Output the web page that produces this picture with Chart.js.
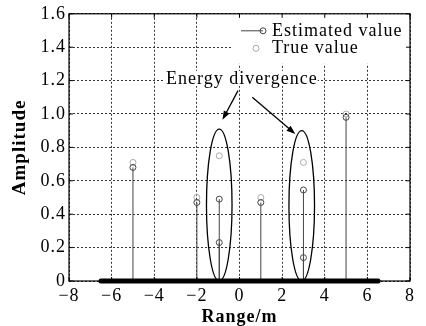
<!DOCTYPE html>
<html>
<head>
<meta charset="utf-8">
<script src="https://cdn.jsdelivr.net/npm/chart.js@4/dist/chart.umd.min.js"></script>
<style>
html, body { margin: 0; padding: 0; background: #fff; }
#wrap { width: 426px; height: 326px; }
</style>
</head>
<body>
<div id="wrap"><canvas id="stem_chart"></canvas></div>
<script>
// estimated targets (stems)
var estRange = [-5, -2, -0.95, -0.95, 1, 3, 3, 5];
var estAmp   = [0.68, 0.47, 0.49, 0.23, 0.47, 0.545, 0.14, 0.98];
// true targets
var trueRange = [-5, -2, -0.95, 1, 3, 5];
var trueAmp   = [0.71, 0.50, 0.75, 0.50, 0.71, 1.0];
// zero estimates packed along the scene
var zeroRange = [-6.5, 6.5];

var xTicks = [-8, -6, -4, -2, 0, 2, 4, 6, 8];
var yTicks = [0, 0.2, 0.4, 0.6, 0.8, 1.0, 1.2, 1.4, 1.6];

// "Energy divergence" groups
var groupX = [-0.95, 2.92];
var groupTop = [0.91, 0.90];
var groupHalfWidth = 0.6;

var SERIF = '"Liberation Serif", "Times New Roman", serif';

function stemPoints() {
    var pts = [];
    for (var i = 0; i < estRange.length; i++) {
        pts.push({x: estRange[i], y: 0}, {x: estRange[i], y: estAmp[i]}, {x: estRange[i], y: null});
    }
    return pts;
}

function pairs(xs, ys) {
    return xs.map(function (x, i) { return {x: x, y: ys[i]}; });
}

function arrow(ctx, x0, y0, x1, y1) {
    var ang = Math.atan2(y1 - y0, x1 - x0), len = 9, w = 3.2;
    ctx.beginPath();
    ctx.moveTo(x0, y0);
    ctx.lineTo(x1 - Math.cos(ang) * len * 0.8, y1 - Math.sin(ang) * len * 0.8);
    ctx.stroke();
    ctx.beginPath();
    ctx.moveTo(x1, y1);
    ctx.lineTo(x1 - Math.cos(ang) * len - Math.sin(ang) * w, y1 - Math.sin(ang) * len + Math.cos(ang) * w);
    ctx.lineTo(x1 - Math.cos(ang) * len + Math.sin(ang) * w, y1 - Math.sin(ang) * len - Math.cos(ang) * w);
    ctx.closePath();
    ctx.fill();
}

var spacing = {
    id: 'spacing',
    beforeDraw: function (chart) { chart.ctx.letterSpacing = '1px'; }
};

var notes = {
    id: 'notes',
    afterDatasetsDraw: function (chart) {
        var ctx = chart.ctx, xs = chart.scales.x, ys = chart.scales.y, a = chart.chartArea;
        ctx.save();
        ctx.strokeStyle = '#000';
        ctx.fillStyle = '#000';

        // ellipses round the split peaks
        ctx.lineWidth = 1.3;
        for (var i = 0; i < groupX.length; i++) {
            var cx = xs.getPixelForValue(groupX[i]);
            var top = ys.getPixelForValue(groupTop[i]), bot = ys.getPixelForValue(0);
            var rx = xs.getPixelForValue(groupX[i] + groupHalfWidth) - cx;
            ctx.beginPath();
            ctx.ellipse(cx, (top + bot) / 2, rx, (bot - top) / 2, 0, 0, Math.PI * 2);
            ctx.stroke();
        }

        // label and arrows
        ctx.font = '18px ' + SERIF;
        ctx.textBaseline = 'middle';
        ctx.textAlign = 'left';
        var tx = xs.getPixelForValue(-3.45), ty = ys.getPixelForValue(1.21);
        var tw = ctx.measureText('Energy divergence').width;
        ctx.fillStyle = '#fff';
        ctx.fillRect(tx - 1, ty - 8, tw + 1, 15);
        ctx.fillStyle = '#000';
        ctx.fillText('Energy divergence', tx, ty);

        ctx.lineWidth = 1.3;
        arrow(ctx, xs.getPixelForValue(-0.07), ys.getPixelForValue(1.14),
                   xs.getPixelForValue(-0.80), ys.getPixelForValue(0.965));
        arrow(ctx, xs.getPixelForValue(0.6), ys.getPixelForValue(1.10),
                   xs.getPixelForValue(2.62), ys.getPixelForValue(0.88));

        // legend box in the top right corner
        ctx.fillStyle = '#fff';
        ctx.fillRect(a.right - 177, a.top, 177, 50);
        ctx.strokeStyle = '#444';
        ctx.lineWidth = 1;
        ctx.beginPath();
        ctx.moveTo(a.right - 169, a.top + 17);
        ctx.lineTo(a.right - 147, a.top + 17);
        ctx.stroke();
        ctx.beginPath();
        ctx.arc(a.right - 147, a.top + 17, 3, 0, Math.PI * 2);
        ctx.stroke();
        ctx.strokeStyle = '#aaa';
        ctx.beginPath();
        ctx.arc(a.right - 154, a.top + 34.5, 3, 0, Math.PI * 2);
        ctx.stroke();
        ctx.fillStyle = '#000';
        ctx.fillText('Estimated value', a.right - 138, a.top + 17);
        ctx.fillText('True value', a.right - 138, a.top + 34.5);

        // frame with inward ticks
        ctx.strokeStyle = '#000';
        ctx.lineWidth = 1.2;
        ctx.strokeRect(a.left, a.top, a.right - a.left, a.bottom - a.top);
        ctx.lineWidth = 1;
        ctx.beginPath();
        xTicks.forEach(function (v) {
            var px = xs.getPixelForValue(v);
            ctx.moveTo(px, a.top); ctx.lineTo(px, a.top + 4);
            ctx.moveTo(px, a.bottom); ctx.lineTo(px, a.bottom - 4);
        });
        yTicks.forEach(function (v) {
            var py = ys.getPixelForValue(v);
            ctx.moveTo(a.left, py); ctx.lineTo(a.left + 4, py);
            ctx.moveTo(a.right, py); ctx.lineTo(a.right - 4, py);
        });
        ctx.stroke();
        ctx.restore();
    }
};

var config = {
    type: 'scatter',
    data: {
        datasets: [{
            label: 'zero',
            data: pairs(zeroRange, [0, 0]),
            showLine: true,
            borderColor: '#000',
            borderWidth: 5,
            borderCapStyle: 'round',
            pointRadius: 0,
            clip: false,
            order: 1
        }, {
            label: 'stems',
            data: stemPoints(),
            showLine: true,
            spanGaps: false,
            borderColor: '#444',
            borderWidth: 1,
            pointRadius: 0,
            order: 4
        }, {
            label: 'Estimated value',
            data: pairs(estRange, estAmp),
            pointRadius: 3,
            pointBorderWidth: 1,
            pointBorderColor: '#444',
            pointBackgroundColor: 'rgba(0,0,0,0)',
            order: 2
        }, {
            label: 'True value',
            data: pairs(trueRange, trueAmp),
            pointRadius: 3,
            pointBorderWidth: 1,
            pointBorderColor: '#aaa',
            pointBackgroundColor: 'rgba(0,0,0,0)',
            order: 3
        }]
    },
    options: {
        responsive: true,
        maintainAspectRatio: false,
        animation: false,
        events: [],
        layout: { padding: { top: 13, right: 16, left: 0, bottom: 0 } },
        plugins: { legend: { display: false }, tooltip: { enabled: false } },
        scales: {
            x: {
                type: 'linear',
                min: -8, max: 8,
                afterFit: function (s) { s.height = 45; },
                afterBuildTicks: function (s) { s.ticks = xTicks.map(function (v) { return {value: v}; }); },
                grid: { color: '#333', lineWidth: 1, drawTicks: false },
                border: { display: false, dash: [2, 2] },
                ticks: {
                    padding: 4,
                    color: '#000',
                    font: { family: SERIF, size: 18 },
                    callback: function (v) { return v < 0 ? '\u2212' + Math.abs(v) : String(v); }
                },
                title: {
                    display: true,
                    text: 'Range/m',
                    color: '#000',
                    font: { family: SERIF, size: 18, weight: 'bold', lineHeight: 1 },
                    padding: { top: 0, bottom: 0 }
                }
            },
            y: {
                type: 'linear',
                min: 0, max: 1.6,
                afterFit: function (s) { s.width = 69; },
                afterBuildTicks: function (s) { s.ticks = yTicks.map(function (v) { return {value: v}; }); },
                grid: { color: '#333', lineWidth: 1, drawTicks: false },
                border: { display: false, dash: [2, 2] },
                ticks: {
                    padding: 3,
                    color: '#000',
                    font: { family: SERIF, size: 18 },
                    callback: function (v) { return v === 0 ? '0' : v.toFixed(1); }
                },
                title: {
                    display: true,
                    text: 'Amplitude',
                    color: '#000',
                    font: { family: SERIF, size: 19, weight: 'bold', lineHeight: 1 },
                    padding: { top: 11, bottom: 0 }
                }
            }
        }
    },
    plugins: [spacing, notes]
};

new Chart(document.getElementById('stem_chart').getContext('2d'), config);
</script>
</body>
</html>
